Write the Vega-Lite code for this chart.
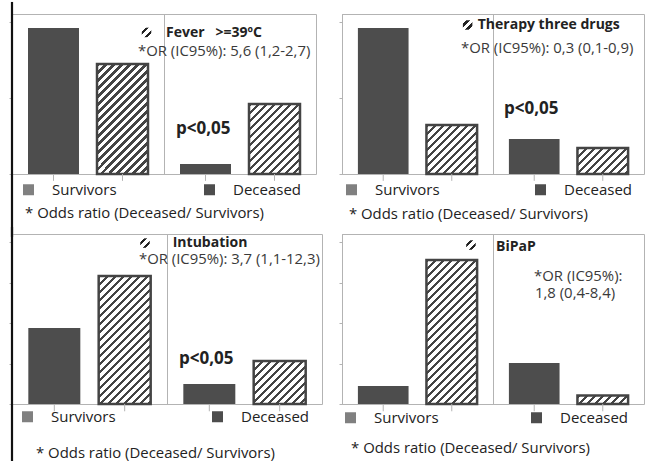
{
"$schema": "https://vega.github.io/schema/vega-lite/v6.json",
"padding": {"left": 8, "top": 0, "right": 0, "bottom": 0},
"background": "white",
"config": {"font": "Open Sans", "view": {"stroke": "#b3b3b3"}},
"datasets": {
"fever": [{"group":"Survivors","factor":"absent","value":95.8},{"group":"Survivors","factor":"present","value":72.2},{"group":"Deceased","factor":"absent","value":6.6},{"group":"Deceased","factor":"present","value":45.9}],
"therapy": [{"group":"Survivors","factor":"absent","value":95.8},{"group":"Survivors","factor":"present","value":32.2},{"group":"Deceased","factor":"absent","value":23.0},{"group":"Deceased","factor":"present","value":17.1}],
"intubation": [{"group":"Survivors","factor":"absent","value":46.9},{"group":"Survivors","factor":"present","value":79.1},{"group":"Deceased","factor":"absent","value":12.4},{"group":"Deceased","factor":"present","value":26.6}],
"bipap": [{"group":"Survivors","factor":"absent","value":11.1},{"group":"Survivors","factor":"present","value":88.9},{"group":"Deceased","factor":"absent","value":25.3},{"group":"Deceased","factor":"present","value":5.2}]
},
"bounds": "flush",
"columns": 2,
"spacing": {"row": 60, "column": 20},
"resolve": {"scale": {"color": "independent", "xOffset": "independent"}, "legend": {"color": "independent"}},
"concat": [
{
"width": 304, "height": 160,
"layer": [
{
"data": {"name": "fever"},
"encoding": {
"x": {"field": "group", "type": "nominal", "scale": {"domain": ["Survivors","Deceased"], "paddingInner": 0, "paddingOuter": 0}, "axis": {"title": null, "labels": false, "ticks": false, "domain": false, "grid": true, "gridColor": "#b3b3b3", "bandPosition": 0}},
"xOffset": {"field": "factor", "type": "nominal", "scale": {"domain": ["absent","present"], "paddingInner": 0.261, "paddingOuter": 0.232}},
"y": {"field": "value", "type": "quantitative", "scale": {"domain": [0,105], "nice": false}, "axis": {"title": null, "labels": false, "grid": false, "values": [0,25,50,75,100], "tickSize": 3, "tickColor": "#b3b3b3", "domainColor": "#b3b3b3"}}
},
"layer": [
{"transform": [{"filter": "datum.factor == 'absent'"}], "mark": {"type": "bar", "fill": "#4d4d4d"}},
{"transform": [{"filter": "datum.factor == 'present' && datum.group == 'Survivors'"}], "mark": {"type": "bar", "stroke": "#444", "strokeWidth": 2.5, "fill": {"gradient": "linear", "x1": 0, "y1": 0, "x2": 0.6938, "y2": 1.4965, "stops": [
{"offset":0,"color":"#444"},{"offset":0.016,"color":"#444"},{"offset":0.016,"color":"#fff"},{"offset":0.04,"color":"#fff"},
{"offset":0.04,"color":"#444"},{"offset":0.056,"color":"#444"},{"offset":0.056,"color":"#fff"},{"offset":0.08,"color":"#fff"},
{"offset":0.08,"color":"#444"},{"offset":0.096,"color":"#444"},{"offset":0.096,"color":"#fff"},{"offset":0.12,"color":"#fff"},
{"offset":0.12,"color":"#444"},{"offset":0.136,"color":"#444"},{"offset":0.136,"color":"#fff"},{"offset":0.16,"color":"#fff"},
{"offset":0.16,"color":"#444"},{"offset":0.176,"color":"#444"},{"offset":0.176,"color":"#fff"},{"offset":0.2,"color":"#fff"},
{"offset":0.2,"color":"#444"},{"offset":0.216,"color":"#444"},{"offset":0.216,"color":"#fff"},{"offset":0.24,"color":"#fff"},
{"offset":0.24,"color":"#444"},{"offset":0.256,"color":"#444"},{"offset":0.256,"color":"#fff"},{"offset":0.28,"color":"#fff"},
{"offset":0.28,"color":"#444"},{"offset":0.296,"color":"#444"},{"offset":0.296,"color":"#fff"},{"offset":0.32,"color":"#fff"},
{"offset":0.32,"color":"#444"},{"offset":0.336,"color":"#444"},{"offset":0.336,"color":"#fff"},{"offset":0.36,"color":"#fff"},
{"offset":0.36,"color":"#444"},{"offset":0.376,"color":"#444"},{"offset":0.376,"color":"#fff"},{"offset":0.4,"color":"#fff"},
{"offset":0.4,"color":"#444"},{"offset":0.416,"color":"#444"},{"offset":0.416,"color":"#fff"},{"offset":0.44,"color":"#fff"},
{"offset":0.44,"color":"#444"},{"offset":0.456,"color":"#444"},{"offset":0.456,"color":"#fff"},{"offset":0.48,"color":"#fff"},
{"offset":0.48,"color":"#444"},{"offset":0.496,"color":"#444"},{"offset":0.496,"color":"#fff"},{"offset":0.52,"color":"#fff"},
{"offset":0.52,"color":"#444"},{"offset":0.536,"color":"#444"},{"offset":0.536,"color":"#fff"},{"offset":0.56,"color":"#fff"},
{"offset":0.56,"color":"#444"},{"offset":0.576,"color":"#444"},{"offset":0.576,"color":"#fff"},{"offset":0.6,"color":"#fff"},
{"offset":0.6,"color":"#444"},{"offset":0.616,"color":"#444"},{"offset":0.616,"color":"#fff"},{"offset":0.64,"color":"#fff"},
{"offset":0.64,"color":"#444"},{"offset":0.656,"color":"#444"},{"offset":0.656,"color":"#fff"},{"offset":0.68,"color":"#fff"},
{"offset":0.68,"color":"#444"},{"offset":0.696,"color":"#444"},{"offset":0.696,"color":"#fff"},{"offset":0.72,"color":"#fff"},
{"offset":0.72,"color":"#444"},{"offset":0.736,"color":"#444"},{"offset":0.736,"color":"#fff"},{"offset":0.76,"color":"#fff"},
{"offset":0.76,"color":"#444"},{"offset":0.776,"color":"#444"},{"offset":0.776,"color":"#fff"},{"offset":0.8,"color":"#fff"},
{"offset":0.8,"color":"#444"},{"offset":0.816,"color":"#444"},{"offset":0.816,"color":"#fff"},{"offset":0.84,"color":"#fff"}
]}}},
{"transform": [{"filter": "datum.factor == 'present' && datum.group == 'Deceased'"}], "mark": {"type": "bar", "stroke": "#444", "strokeWidth": 2.5, "fill": {"gradient": "linear", "x1": 0, "y1": 0, "x2": 1.3624, "y2": 1.8672, "stops": [
{"offset":0,"color":"#444"},{"offset":0.016,"color":"#444"},{"offset":0.016,"color":"#fff"},{"offset":0.04,"color":"#fff"},
{"offset":0.04,"color":"#444"},{"offset":0.056,"color":"#444"},{"offset":0.056,"color":"#fff"},{"offset":0.08,"color":"#fff"},
{"offset":0.08,"color":"#444"},{"offset":0.096,"color":"#444"},{"offset":0.096,"color":"#fff"},{"offset":0.12,"color":"#fff"},
{"offset":0.12,"color":"#444"},{"offset":0.136,"color":"#444"},{"offset":0.136,"color":"#fff"},{"offset":0.16,"color":"#fff"},
{"offset":0.16,"color":"#444"},{"offset":0.176,"color":"#444"},{"offset":0.176,"color":"#fff"},{"offset":0.2,"color":"#fff"},
{"offset":0.2,"color":"#444"},{"offset":0.216,"color":"#444"},{"offset":0.216,"color":"#fff"},{"offset":0.24,"color":"#fff"},
{"offset":0.24,"color":"#444"},{"offset":0.256,"color":"#444"},{"offset":0.256,"color":"#fff"},{"offset":0.28,"color":"#fff"},
{"offset":0.28,"color":"#444"},{"offset":0.296,"color":"#444"},{"offset":0.296,"color":"#fff"},{"offset":0.32,"color":"#fff"},
{"offset":0.32,"color":"#444"},{"offset":0.336,"color":"#444"},{"offset":0.336,"color":"#fff"},{"offset":0.36,"color":"#fff"},
{"offset":0.36,"color":"#444"},{"offset":0.376,"color":"#444"},{"offset":0.376,"color":"#fff"},{"offset":0.4,"color":"#fff"},
{"offset":0.4,"color":"#444"},{"offset":0.416,"color":"#444"},{"offset":0.416,"color":"#fff"},{"offset":0.44,"color":"#fff"},
{"offset":0.44,"color":"#444"},{"offset":0.456,"color":"#444"},{"offset":0.456,"color":"#fff"},{"offset":0.48,"color":"#fff"},
{"offset":0.48,"color":"#444"},{"offset":0.496,"color":"#444"},{"offset":0.496,"color":"#fff"},{"offset":0.52,"color":"#fff"},
{"offset":0.52,"color":"#444"},{"offset":0.536,"color":"#444"},{"offset":0.536,"color":"#fff"},{"offset":0.56,"color":"#fff"},
{"offset":0.56,"color":"#444"},{"offset":0.576,"color":"#444"},{"offset":0.576,"color":"#fff"},{"offset":0.6,"color":"#fff"},
{"offset":0.6,"color":"#444"},{"offset":0.616,"color":"#444"},{"offset":0.616,"color":"#fff"},{"offset":0.64,"color":"#fff"}
]}}},
{"mark": {"type": "rule", "color": "#b3b3b3"}, "encoding": {"y": {"datum": 0}, "y2": {"datum": -4.5}}},
{"mark": {"type": "square", "opacity": 0}, "encoding": {"color": {"field": "group", "type": "nominal", "scale": {"domain": ["Survivors","Deceased"], "range": ["#808080","#4d4d4d"]}, "legend": {"orient": "none", "legendX": 9, "legendY": 168, "direction": "horizontal", "title": null, "symbolType": "square", "symbolSize": 121, "symbolOpacity": 1, "symbolStrokeWidth": 0, "labelFont": "Open Sans", "labelFontSize": 15, "labelColor": "#222", "labelOffset": 16, "columnPadding": 85, "padding": 0}}}}
]
},
{"data": {"values": [{}]}, "mark": {"type": "point", "shape": "square", "filled": true, "opacity": 1, "size": 90, "strokeWidth": 0, "fill": {"gradient": "linear", "x1": 0, "y1": 0, "x2": 1, "y2": 1, "stops": [{"offset":0.2,"color":"#fff"},{"offset":0.2,"color":"#222"},{"offset":0.38,"color":"#222"},{"offset":0.38,"color":"#fff"},{"offset":0.62,"color":"#fff"},{"offset":0.62,"color":"#222"},{"offset":0.8,"color":"#222"},{"offset":0.8,"color":"#fff"}]}}, "encoding": {"x": {"datum": "Survivors", "bandPosition": 0.885}, "y": {"datum": 92.9}}},
{"data": {"values": [{}]}, "mark": {"type": "text", "align": "left", "baseline": "middle", "fontSize": 14, "fontWeight": "bold", "color": "#222", "text": "Fever\u00a0\u00a0\u00a0>=39ºC"}, "encoding": {"x": {"datum": "Survivors", "bandPosition": 1.013}, "y": {"datum": 92.5}}},
{"data": {"values": [{}]}, "mark": {"type": "text", "align": "left", "baseline": "middle", "fontSize": 14.9, "color": "#3a3a3a", "text": "*OR (IC95%): 5,6 (1,2-2,7)"}, "encoding": {"x": {"datum": "Survivors", "bandPosition": 0.829}, "y": {"datum": 80.1}}},
{"data": {"values": [{}]}, "mark": {"type": "text", "align": "left", "baseline": "middle", "fontSize": 17, "fontWeight": "bold", "color": "#222", "text": "p<0,05"}, "encoding": {"x": {"datum": "Survivors", "bandPosition": 1.079}, "y": {"datum": 29.5}}},
{"data": {"values": [{}]}, "mark": {"type": "text", "align": "left", "baseline": "middle", "fontSize": 14.9, "color": "#222", "text": "* Odds ratio (Deceased/ Survivors)"}, "encoding": {"x": {"datum": "Survivors", "bandPosition": 0.086}, "y": {"datum": -26.3}}},
{"data": {"values": [{}]}, "mark": {"type": "rule", "color": "#111", "strokeWidth": 2.2}, "encoding": {"x": {"datum": "Survivors", "bandPosition": 0}, "y": {"datum": 112.9}, "y2": {"datum": -41.3}}}
]
},
{
"width": 302, "height": 160,
"layer": [
{
"data": {"name": "therapy"},
"encoding": {
"x": {"field": "group", "type": "nominal", "scale": {"domain": ["Survivors","Deceased"], "paddingInner": 0, "paddingOuter": 0}, "axis": {"title": null, "labels": false, "ticks": false, "domain": false, "grid": true, "gridColor": "#b3b3b3", "bandPosition": 0}},
"xOffset": {"field": "factor", "type": "nominal", "scale": {"domain": ["absent","present"], "paddingInner": 0.261, "paddingOuter": 0.232}},
"y": {"field": "value", "type": "quantitative", "scale": {"domain": [0,105], "nice": false}, "axis": {"title": null, "labels": false, "grid": false, "values": [0,25,50,75,100], "tickSize": 3, "tickColor": "#b3b3b3", "domainColor": "#b3b3b3"}}
},
"layer": [
{"transform": [{"filter": "datum.factor == 'absent'"}], "mark": {"type": "bar", "fill": "#4d4d4d"}},
{"transform": [{"filter": "datum.factor == 'present' && datum.group == 'Survivors'"}], "mark": {"type": "bar", "stroke": "#444", "strokeWidth": 2.5, "fill": {"gradient": "linear", "x1": 0, "y1": 0, "x2": 2.0357, "y2": 1.9734, "stops": [
{"offset":0,"color":"#444"},{"offset":0.016,"color":"#444"},{"offset":0.016,"color":"#fff"},{"offset":0.04,"color":"#fff"},
{"offset":0.04,"color":"#444"},{"offset":0.056,"color":"#444"},{"offset":0.056,"color":"#fff"},{"offset":0.08,"color":"#fff"},
{"offset":0.08,"color":"#444"},{"offset":0.096,"color":"#444"},{"offset":0.096,"color":"#fff"},{"offset":0.12,"color":"#fff"},
{"offset":0.12,"color":"#444"},{"offset":0.136,"color":"#444"},{"offset":0.136,"color":"#fff"},{"offset":0.16,"color":"#fff"},
{"offset":0.16,"color":"#444"},{"offset":0.176,"color":"#444"},{"offset":0.176,"color":"#fff"},{"offset":0.2,"color":"#fff"},
{"offset":0.2,"color":"#444"},{"offset":0.216,"color":"#444"},{"offset":0.216,"color":"#fff"},{"offset":0.24,"color":"#fff"},
{"offset":0.24,"color":"#444"},{"offset":0.256,"color":"#444"},{"offset":0.256,"color":"#fff"},{"offset":0.28,"color":"#fff"},
{"offset":0.28,"color":"#444"},{"offset":0.296,"color":"#444"},{"offset":0.296,"color":"#fff"},{"offset":0.32,"color":"#fff"},
{"offset":0.32,"color":"#444"},{"offset":0.336,"color":"#444"},{"offset":0.336,"color":"#fff"},{"offset":0.36,"color":"#fff"},
{"offset":0.36,"color":"#444"},{"offset":0.376,"color":"#444"},{"offset":0.376,"color":"#fff"},{"offset":0.4,"color":"#fff"},
{"offset":0.4,"color":"#444"},{"offset":0.416,"color":"#444"},{"offset":0.416,"color":"#fff"},{"offset":0.44,"color":"#fff"},
{"offset":0.44,"color":"#444"},{"offset":0.456,"color":"#444"},{"offset":0.456,"color":"#fff"},{"offset":0.48,"color":"#fff"},
{"offset":0.48,"color":"#444"},{"offset":0.496,"color":"#444"},{"offset":0.496,"color":"#fff"},{"offset":0.52,"color":"#fff"}
]}}},
{"transform": [{"filter": "datum.factor == 'present' && datum.group == 'Deceased'"}], "mark": {"type": "bar", "stroke": "#444", "strokeWidth": 2.5, "fill": {"gradient": "linear", "x1": 0, "y1": 0, "x2": 3.1202, "y2": 1.6078, "stops": [
{"offset":0,"color":"#444"},{"offset":0.016,"color":"#444"},{"offset":0.016,"color":"#fff"},{"offset":0.04,"color":"#fff"},
{"offset":0.04,"color":"#444"},{"offset":0.056,"color":"#444"},{"offset":0.056,"color":"#fff"},{"offset":0.08,"color":"#fff"},
{"offset":0.08,"color":"#444"},{"offset":0.096,"color":"#444"},{"offset":0.096,"color":"#fff"},{"offset":0.12,"color":"#fff"},
{"offset":0.12,"color":"#444"},{"offset":0.136,"color":"#444"},{"offset":0.136,"color":"#fff"},{"offset":0.16,"color":"#fff"},
{"offset":0.16,"color":"#444"},{"offset":0.176,"color":"#444"},{"offset":0.176,"color":"#fff"},{"offset":0.2,"color":"#fff"},
{"offset":0.2,"color":"#444"},{"offset":0.216,"color":"#444"},{"offset":0.216,"color":"#fff"},{"offset":0.24,"color":"#fff"},
{"offset":0.24,"color":"#444"},{"offset":0.256,"color":"#444"},{"offset":0.256,"color":"#fff"},{"offset":0.28,"color":"#fff"},
{"offset":0.28,"color":"#444"},{"offset":0.296,"color":"#444"},{"offset":0.296,"color":"#fff"},{"offset":0.32,"color":"#fff"},
{"offset":0.32,"color":"#444"},{"offset":0.336,"color":"#444"},{"offset":0.336,"color":"#fff"},{"offset":0.36,"color":"#fff"},
{"offset":0.36,"color":"#444"},{"offset":0.376,"color":"#444"},{"offset":0.376,"color":"#fff"},{"offset":0.4,"color":"#fff"}
]}}},
{"mark": {"type": "rule", "color": "#b3b3b3"}, "encoding": {"y": {"datum": 0}, "y2": {"datum": -4.5}}},
{"mark": {"type": "square", "opacity": 0}, "encoding": {"color": {"field": "group", "type": "nominal", "scale": {"domain": ["Survivors","Deceased"], "range": ["#808080","#4d4d4d"]}, "legend": {"orient": "none", "legendX": 2, "legendY": 168, "direction": "horizontal", "title": null, "symbolType": "square", "symbolSize": 121, "symbolOpacity": 1, "symbolStrokeWidth": 0, "labelFont": "Open Sans", "labelFontSize": 15, "labelColor": "#222", "labelOffset": 16, "columnPadding": 93, "padding": 0}}}}
]
},
{"data": {"values": [{}]}, "mark": {"type": "point", "shape": "square", "filled": true, "opacity": 1, "size": 90, "strokeWidth": 0, "fill": {"gradient": "linear", "x1": 0, "y1": 0, "x2": 1, "y2": 1, "stops": [{"offset":0.2,"color":"#fff"},{"offset":0.2,"color":"#222"},{"offset":0.38,"color":"#222"},{"offset":0.38,"color":"#fff"},{"offset":0.62,"color":"#fff"},{"offset":0.62,"color":"#222"},{"offset":0.8,"color":"#222"},{"offset":0.8,"color":"#fff"}]}}, "encoding": {"x": {"datum": "Survivors", "bandPosition": 0.832}, "y": {"datum": 97.8}}},
{"data": {"values": [{}]}, "mark": {"type": "text", "align": "left", "baseline": "middle", "fontSize": 14, "fontWeight": "bold", "color": "#222", "text": "Therapy three drugs"}, "encoding": {"x": {"datum": "Survivors", "bandPosition": 0.899}, "y": {"datum": 97.6}}},
{"data": {"values": [{}]}, "mark": {"type": "text", "align": "left", "baseline": "middle", "fontSize": 14.9, "color": "#3a3a3a", "text": "*OR (IC95%): 0,3 (0,1-0,9)"}, "encoding": {"x": {"datum": "Survivors", "bandPosition": 0.788}, "y": {"datum": 82.2}}},
{"data": {"values": [{}]}, "mark": {"type": "text", "align": "left", "baseline": "middle", "fontSize": 17, "fontWeight": "bold", "color": "#222", "text": "p<0,05"}, "encoding": {"x": {"datum": "Survivors", "bandPosition": 1.073}, "y": {"datum": 42.9}}},
{"data": {"values": [{}]}, "mark": {"type": "text", "align": "left", "baseline": "middle", "fontSize": 14.9, "color": "#222", "text": "* Odds ratio (Deceased/ Survivors)"}, "encoding": {"x": {"datum": "Survivors", "bandPosition": 0.046}, "y": {"datum": -26.9}}}
]
},
{
"width": 310, "height": 170,
"layer": [
{
"data": {"name": "intubation"},
"encoding": {
"x": {"field": "group", "type": "nominal", "scale": {"domain": ["Survivors","Deceased"], "paddingInner": 0, "paddingOuter": 0}, "axis": {"title": null, "labels": false, "ticks": false, "domain": false, "grid": true, "gridColor": "#b3b3b3", "bandPosition": 0}},
"xOffset": {"field": "factor", "type": "nominal", "scale": {"domain": ["absent","present"], "paddingInner": 0.261, "paddingOuter": 0.232}},
"y": {"field": "value", "type": "quantitative", "scale": {"domain": [0,105], "nice": false}, "axis": {"title": null, "labels": false, "grid": false, "values": [0,25,50,75,100], "tickSize": 3, "tickColor": "#b3b3b3", "domainColor": "#b3b3b3"}}
},
"layer": [
{"transform": [{"filter": "datum.factor == 'absent'"}], "mark": {"type": "bar", "fill": "#4d4d4d"}},
{"transform": [{"filter": "datum.factor == 'present' && datum.group == 'Survivors'"}], "mark": {"type": "bar", "stroke": "#444", "strokeWidth": 2.5, "fill": {"gradient": "linear", "x1": 0, "y1": 0, "x2": 0.5441, "y2": 1.3404, "stops": [
{"offset":0,"color":"#444"},{"offset":0.016,"color":"#444"},{"offset":0.016,"color":"#fff"},{"offset":0.04,"color":"#fff"},
{"offset":0.04,"color":"#444"},{"offset":0.056,"color":"#444"},{"offset":0.056,"color":"#fff"},{"offset":0.08,"color":"#fff"},
{"offset":0.08,"color":"#444"},{"offset":0.096,"color":"#444"},{"offset":0.096,"color":"#fff"},{"offset":0.12,"color":"#fff"},
{"offset":0.12,"color":"#444"},{"offset":0.136,"color":"#444"},{"offset":0.136,"color":"#fff"},{"offset":0.16,"color":"#fff"},
{"offset":0.16,"color":"#444"},{"offset":0.176,"color":"#444"},{"offset":0.176,"color":"#fff"},{"offset":0.2,"color":"#fff"},
{"offset":0.2,"color":"#444"},{"offset":0.216,"color":"#444"},{"offset":0.216,"color":"#fff"},{"offset":0.24,"color":"#fff"},
{"offset":0.24,"color":"#444"},{"offset":0.256,"color":"#444"},{"offset":0.256,"color":"#fff"},{"offset":0.28,"color":"#fff"},
{"offset":0.28,"color":"#444"},{"offset":0.296,"color":"#444"},{"offset":0.296,"color":"#fff"},{"offset":0.32,"color":"#fff"},
{"offset":0.32,"color":"#444"},{"offset":0.336,"color":"#444"},{"offset":0.336,"color":"#fff"},{"offset":0.36,"color":"#fff"},
{"offset":0.36,"color":"#444"},{"offset":0.376,"color":"#444"},{"offset":0.376,"color":"#fff"},{"offset":0.4,"color":"#fff"},
{"offset":0.4,"color":"#444"},{"offset":0.416,"color":"#444"},{"offset":0.416,"color":"#fff"},{"offset":0.44,"color":"#fff"},
{"offset":0.44,"color":"#444"},{"offset":0.456,"color":"#444"},{"offset":0.456,"color":"#fff"},{"offset":0.48,"color":"#fff"},
{"offset":0.48,"color":"#444"},{"offset":0.496,"color":"#444"},{"offset":0.496,"color":"#fff"},{"offset":0.52,"color":"#fff"},
{"offset":0.52,"color":"#444"},{"offset":0.536,"color":"#444"},{"offset":0.536,"color":"#fff"},{"offset":0.56,"color":"#fff"},
{"offset":0.56,"color":"#444"},{"offset":0.576,"color":"#444"},{"offset":0.576,"color":"#fff"},{"offset":0.6,"color":"#fff"},
{"offset":0.6,"color":"#444"},{"offset":0.616,"color":"#444"},{"offset":0.616,"color":"#fff"},{"offset":0.64,"color":"#fff"},
{"offset":0.64,"color":"#444"},{"offset":0.656,"color":"#444"},{"offset":0.656,"color":"#fff"},{"offset":0.68,"color":"#fff"},
{"offset":0.68,"color":"#444"},{"offset":0.696,"color":"#444"},{"offset":0.696,"color":"#fff"},{"offset":0.72,"color":"#fff"},
{"offset":0.72,"color":"#444"},{"offset":0.736,"color":"#444"},{"offset":0.736,"color":"#fff"},{"offset":0.76,"color":"#fff"},
{"offset":0.76,"color":"#444"},{"offset":0.776,"color":"#444"},{"offset":0.776,"color":"#fff"},{"offset":0.8,"color":"#fff"},
{"offset":0.8,"color":"#444"},{"offset":0.816,"color":"#444"},{"offset":0.816,"color":"#fff"},{"offset":0.84,"color":"#fff"},
{"offset":0.84,"color":"#444"},{"offset":0.856,"color":"#444"},{"offset":0.856,"color":"#fff"},{"offset":0.88,"color":"#fff"},
{"offset":0.88,"color":"#444"},{"offset":0.896,"color":"#444"},{"offset":0.896,"color":"#fff"},{"offset":0.92,"color":"#fff"}
]}}},
{"transform": [{"filter": "datum.factor == 'present' && datum.group == 'Deceased'"}], "mark": {"type": "bar", "stroke": "#444", "strokeWidth": 2.5, "fill": {"gradient": "linear", "x1": 0, "y1": 0, "x2": 2.2799, "y2": 1.8897, "stops": [
{"offset":0,"color":"#444"},{"offset":0.016,"color":"#444"},{"offset":0.016,"color":"#fff"},{"offset":0.04,"color":"#fff"},
{"offset":0.04,"color":"#444"},{"offset":0.056,"color":"#444"},{"offset":0.056,"color":"#fff"},{"offset":0.08,"color":"#fff"},
{"offset":0.08,"color":"#444"},{"offset":0.096,"color":"#444"},{"offset":0.096,"color":"#fff"},{"offset":0.12,"color":"#fff"},
{"offset":0.12,"color":"#444"},{"offset":0.136,"color":"#444"},{"offset":0.136,"color":"#fff"},{"offset":0.16,"color":"#fff"},
{"offset":0.16,"color":"#444"},{"offset":0.176,"color":"#444"},{"offset":0.176,"color":"#fff"},{"offset":0.2,"color":"#fff"},
{"offset":0.2,"color":"#444"},{"offset":0.216,"color":"#444"},{"offset":0.216,"color":"#fff"},{"offset":0.24,"color":"#fff"},
{"offset":0.24,"color":"#444"},{"offset":0.256,"color":"#444"},{"offset":0.256,"color":"#fff"},{"offset":0.28,"color":"#fff"},
{"offset":0.28,"color":"#444"},{"offset":0.296,"color":"#444"},{"offset":0.296,"color":"#fff"},{"offset":0.32,"color":"#fff"},
{"offset":0.32,"color":"#444"},{"offset":0.336,"color":"#444"},{"offset":0.336,"color":"#fff"},{"offset":0.36,"color":"#fff"},
{"offset":0.36,"color":"#444"},{"offset":0.376,"color":"#444"},{"offset":0.376,"color":"#fff"},{"offset":0.4,"color":"#fff"},
{"offset":0.4,"color":"#444"},{"offset":0.416,"color":"#444"},{"offset":0.416,"color":"#fff"},{"offset":0.44,"color":"#fff"},
{"offset":0.44,"color":"#444"},{"offset":0.456,"color":"#444"},{"offset":0.456,"color":"#fff"},{"offset":0.48,"color":"#fff"}
]}}},
{"mark": {"type": "rule", "color": "#b3b3b3"}, "encoding": {"y": {"datum": 0}, "y2": {"datum": -4.5}}},
{"mark": {"type": "square", "opacity": 0}, "encoding": {"color": {"field": "group", "type": "nominal", "scale": {"domain": ["Survivors","Deceased"], "range": ["#808080","#4d4d4d"]}, "legend": {"orient": "none", "legendX": 8, "legendY": 175, "direction": "horizontal", "title": null, "symbolType": "square", "symbolSize": 121, "symbolOpacity": 1, "symbolStrokeWidth": 0, "labelFont": "Open Sans", "labelFontSize": 15, "labelColor": "#222", "labelOffset": 16, "columnPadding": 94, "padding": 0}}}}
]
},
{"data": {"values": [{}]}, "mark": {"type": "point", "shape": "square", "filled": true, "opacity": 1, "size": 90, "strokeWidth": 0, "fill": {"gradient": "linear", "x1": 0, "y1": 0, "x2": 1, "y2": 1, "stops": [{"offset":0.2,"color":"#fff"},{"offset":0.2,"color":"#222"},{"offset":0.38,"color":"#222"},{"offset":0.38,"color":"#fff"},{"offset":0.62,"color":"#fff"},{"offset":0.62,"color":"#222"},{"offset":0.8,"color":"#222"},{"offset":0.8,"color":"#fff"}]}}, "encoding": {"x": {"datum": "Survivors", "bandPosition": 0.858}, "y": {"datum": 99.4}}},
{"data": {"values": [{}]}, "mark": {"type": "text", "align": "left", "baseline": "middle", "fontSize": 14, "fontWeight": "bold", "color": "#222", "text": "Intubation"}, "encoding": {"x": {"datum": "Survivors", "bandPosition": 1.037}, "y": {"datum": 99.4}}},
{"data": {"values": [{}]}, "mark": {"type": "text", "align": "left", "baseline": "middle", "fontSize": 14.9, "color": "#3a3a3a", "text": "*OR (IC95%): 3,7 (1,1-12,3)"}, "encoding": {"x": {"datum": "Survivors", "bandPosition": 0.819}, "y": {"datum": 88.8}}},
{"data": {"values": [{}]}, "mark": {"type": "text", "align": "left", "baseline": "middle", "fontSize": 17, "fontWeight": "bold", "color": "#222", "text": "p<0,05"}, "encoding": {"x": {"datum": "Survivors", "bandPosition": 1.077}, "y": {"datum": 28.0}}},
{"data": {"values": [{}]}, "mark": {"type": "text", "align": "left", "baseline": "middle", "fontSize": 14.9, "color": "#222", "text": "* Odds ratio (Deceased/ Survivors)"}, "encoding": {"x": {"datum": "Survivors", "bandPosition": 0.155}, "y": {"datum": -30.9}}},
{"data": {"values": [{}]}, "mark": {"type": "rule", "color": "#111", "strokeWidth": 2.2}, "encoding": {"x": {"datum": "Survivors", "bandPosition": 0}, "y": {"datum": 109.3}, "y2": {"datum": -36.4}}}
]
},
{
"width": 302, "height": 170,
"layer": [
{
"data": {"name": "bipap"},
"encoding": {
"x": {"field": "group", "type": "nominal", "scale": {"domain": ["Survivors","Deceased"], "paddingInner": 0, "paddingOuter": 0}, "axis": {"title": null, "labels": false, "ticks": false, "domain": false, "grid": true, "gridColor": "#b3b3b3", "bandPosition": 0}},
"xOffset": {"field": "factor", "type": "nominal", "scale": {"domain": ["absent","present"], "paddingInner": 0.261, "paddingOuter": 0.232}},
"y": {"field": "value", "type": "quantitative", "scale": {"domain": [0,105], "nice": false}, "axis": {"title": null, "labels": false, "grid": false, "values": [0,25,50,75,100], "tickSize": 3, "tickColor": "#b3b3b3", "domainColor": "#b3b3b3"}}
},
"layer": [
{"transform": [{"filter": "datum.factor == 'absent'"}], "mark": {"type": "bar", "fill": "#4d4d4d"}},
{"transform": [{"filter": "datum.factor == 'present' && datum.group == 'Survivors'"}], "mark": {"type": "bar", "stroke": "#444", "strokeWidth": 2.5, "fill": {"gradient": "linear", "x1": 0, "y1": 0, "x2": 0.4353, "y2": 1.2366, "stops": [
{"offset":0,"color":"#444"},{"offset":0.016,"color":"#444"},{"offset":0.016,"color":"#fff"},{"offset":0.04,"color":"#fff"},
{"offset":0.04,"color":"#444"},{"offset":0.056,"color":"#444"},{"offset":0.056,"color":"#fff"},{"offset":0.08,"color":"#fff"},
{"offset":0.08,"color":"#444"},{"offset":0.096,"color":"#444"},{"offset":0.096,"color":"#fff"},{"offset":0.12,"color":"#fff"},
{"offset":0.12,"color":"#444"},{"offset":0.136,"color":"#444"},{"offset":0.136,"color":"#fff"},{"offset":0.16,"color":"#fff"},
{"offset":0.16,"color":"#444"},{"offset":0.176,"color":"#444"},{"offset":0.176,"color":"#fff"},{"offset":0.2,"color":"#fff"},
{"offset":0.2,"color":"#444"},{"offset":0.216,"color":"#444"},{"offset":0.216,"color":"#fff"},{"offset":0.24,"color":"#fff"},
{"offset":0.24,"color":"#444"},{"offset":0.256,"color":"#444"},{"offset":0.256,"color":"#fff"},{"offset":0.28,"color":"#fff"},
{"offset":0.28,"color":"#444"},{"offset":0.296,"color":"#444"},{"offset":0.296,"color":"#fff"},{"offset":0.32,"color":"#fff"},
{"offset":0.32,"color":"#444"},{"offset":0.336,"color":"#444"},{"offset":0.336,"color":"#fff"},{"offset":0.36,"color":"#fff"},
{"offset":0.36,"color":"#444"},{"offset":0.376,"color":"#444"},{"offset":0.376,"color":"#fff"},{"offset":0.4,"color":"#fff"},
{"offset":0.4,"color":"#444"},{"offset":0.416,"color":"#444"},{"offset":0.416,"color":"#fff"},{"offset":0.44,"color":"#fff"},
{"offset":0.44,"color":"#444"},{"offset":0.456,"color":"#444"},{"offset":0.456,"color":"#fff"},{"offset":0.48,"color":"#fff"},
{"offset":0.48,"color":"#444"},{"offset":0.496,"color":"#444"},{"offset":0.496,"color":"#fff"},{"offset":0.52,"color":"#fff"},
{"offset":0.52,"color":"#444"},{"offset":0.536,"color":"#444"},{"offset":0.536,"color":"#fff"},{"offset":0.56,"color":"#fff"},
{"offset":0.56,"color":"#444"},{"offset":0.576,"color":"#444"},{"offset":0.576,"color":"#fff"},{"offset":0.6,"color":"#fff"},
{"offset":0.6,"color":"#444"},{"offset":0.616,"color":"#444"},{"offset":0.616,"color":"#fff"},{"offset":0.64,"color":"#fff"},
{"offset":0.64,"color":"#444"},{"offset":0.656,"color":"#444"},{"offset":0.656,"color":"#fff"},{"offset":0.68,"color":"#fff"},
{"offset":0.68,"color":"#444"},{"offset":0.696,"color":"#444"},{"offset":0.696,"color":"#fff"},{"offset":0.72,"color":"#fff"},
{"offset":0.72,"color":"#444"},{"offset":0.736,"color":"#444"},{"offset":0.736,"color":"#fff"},{"offset":0.76,"color":"#fff"},
{"offset":0.76,"color":"#444"},{"offset":0.776,"color":"#444"},{"offset":0.776,"color":"#fff"},{"offset":0.8,"color":"#fff"},
{"offset":0.8,"color":"#444"},{"offset":0.816,"color":"#444"},{"offset":0.816,"color":"#fff"},{"offset":0.84,"color":"#fff"},
{"offset":0.84,"color":"#444"},{"offset":0.856,"color":"#444"},{"offset":0.856,"color":"#fff"},{"offset":0.88,"color":"#fff"},
{"offset":0.88,"color":"#444"},{"offset":0.896,"color":"#444"},{"offset":0.896,"color":"#fff"},{"offset":0.92,"color":"#fff"},
{"offset":0.92,"color":"#444"},{"offset":0.936,"color":"#444"},{"offset":0.936,"color":"#fff"},{"offset":0.96,"color":"#fff"},
{"offset":0.96,"color":"#444"},{"offset":0.976,"color":"#444"},{"offset":0.976,"color":"#fff"},{"offset":1,"color":"#fff"}
]}}},
{"transform": [{"filter": "datum.factor == 'present' && datum.group == 'Deceased'"}], "mark": {"type": "bar", "stroke": "#444", "strokeWidth": 2.5, "fill": {"gradient": "linear", "x1": 0, "y1": 0, "x2": 3.8429, "y2": 0.6373, "stops": [
{"offset":0,"color":"#444"},{"offset":0.016,"color":"#444"},{"offset":0.016,"color":"#fff"},{"offset":0.04,"color":"#fff"},
{"offset":0.04,"color":"#444"},{"offset":0.056,"color":"#444"},{"offset":0.056,"color":"#fff"},{"offset":0.08,"color":"#fff"},
{"offset":0.08,"color":"#444"},{"offset":0.096,"color":"#444"},{"offset":0.096,"color":"#fff"},{"offset":0.12,"color":"#fff"},
{"offset":0.12,"color":"#444"},{"offset":0.136,"color":"#444"},{"offset":0.136,"color":"#fff"},{"offset":0.16,"color":"#fff"},
{"offset":0.16,"color":"#444"},{"offset":0.176,"color":"#444"},{"offset":0.176,"color":"#fff"},{"offset":0.2,"color":"#fff"},
{"offset":0.2,"color":"#444"},{"offset":0.216,"color":"#444"},{"offset":0.216,"color":"#fff"},{"offset":0.24,"color":"#fff"},
{"offset":0.24,"color":"#444"},{"offset":0.256,"color":"#444"},{"offset":0.256,"color":"#fff"},{"offset":0.28,"color":"#fff"},
{"offset":0.28,"color":"#444"},{"offset":0.296,"color":"#444"},{"offset":0.296,"color":"#fff"},{"offset":0.32,"color":"#fff"}
]}}},
{"mark": {"type": "rule", "color": "#b3b3b3"}, "encoding": {"y": {"datum": 0}, "y2": {"datum": -4.5}}},
{"mark": {"type": "square", "opacity": 0}, "encoding": {"color": {"field": "group", "type": "nominal", "scale": {"domain": ["Survivors","Deceased"], "range": ["#808080","#4d4d4d"]}, "legend": {"orient": "none", "legendX": 1, "legendY": 176, "direction": "horizontal", "title": null, "symbolType": "square", "symbolSize": 121, "symbolOpacity": 1, "symbolStrokeWidth": 0, "labelFont": "Open Sans", "labelFontSize": 15, "labelColor": "#222", "labelOffset": 16, "columnPadding": 90, "padding": 0}}}}
]
},
{"data": {"values": [{}]}, "mark": {"type": "point", "shape": "square", "filled": true, "opacity": 1, "size": 90, "strokeWidth": 0, "fill": {"gradient": "linear", "x1": 0, "y1": 0, "x2": 1, "y2": 1, "stops": [{"offset":0.2,"color":"#fff"},{"offset":0.2,"color":"#222"},{"offset":0.38,"color":"#222"},{"offset":0.38,"color":"#fff"},{"offset":0.62,"color":"#fff"},{"offset":0.62,"color":"#222"},{"offset":0.8,"color":"#222"},{"offset":0.8,"color":"#fff"}]}}, "encoding": {"x": {"datum": "Survivors", "bandPosition": 0.854}, "y": {"datum": 98.2}}},
{"data": {"values": [{}]}, "mark": {"type": "text", "align": "left", "baseline": "middle", "fontSize": 14, "fontWeight": "bold", "color": "#222", "text": "BiPaP"}, "encoding": {"x": {"datum": "Survivors", "bandPosition": 1.020}, "y": {"datum": 97.0}}},
{"data": {"values": [{}]}, "mark": {"type": "text", "align": "left", "baseline": "middle", "fontSize": 14.9, "color": "#3a3a3a", "text": "*OR (IC95%):"}, "encoding": {"x": {"datum": "Survivors", "bandPosition": 1.272}, "y": {"datum": 78.4}}},
{"data": {"values": [{}]}, "mark": {"type": "text", "align": "left", "baseline": "middle", "fontSize": 14.9, "color": "#3a3a3a", "text": "1,8 (0,4-8,4)"}, "encoding": {"x": {"datum": "Survivors", "bandPosition": 1.278}, "y": {"datum": 68.1}}},
{"data": {"values": [{}]}, "mark": {"type": "text", "align": "left", "baseline": "middle", "fontSize": 14.9, "color": "#222", "text": "* Odds ratio (Deceased/ Survivors)"}, "encoding": {"x": {"datum": "Survivors", "bandPosition": 0.06}, "y": {"datum": -27.8}}}
]
}
]
}
